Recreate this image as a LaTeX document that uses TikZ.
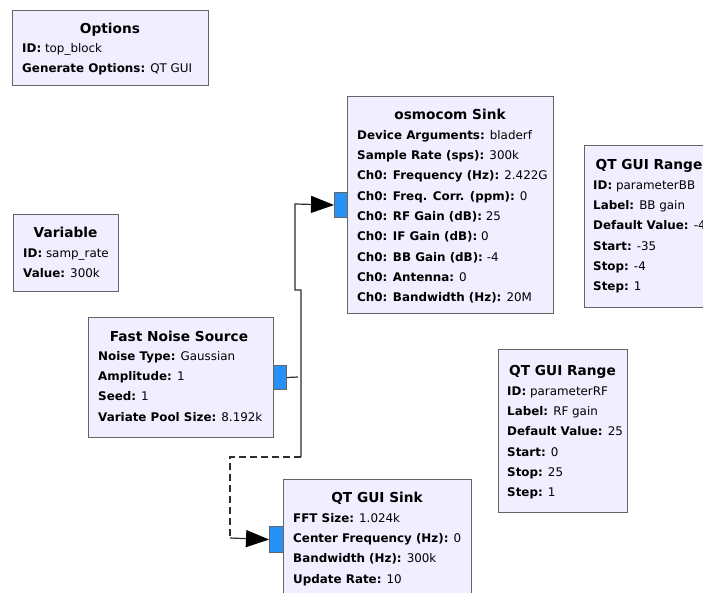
\documentclass[tikz,border=0pt]{standalone}
\usepackage{fontspec}
\setmainfont{DejaVu Sans}
\usetikzlibrary{arrows.meta}
\definecolor{blockfill}{RGB}{240,238,255}
\definecolor{blockedge}{RGB}{100,100,100}
\definecolor{portfill}{RGB}{40,145,245}
\definecolor{wire}{RGB}{45,45,45}
\tikzset{
  blockbox/.style={draw=blockedge, fill=blockfill, line width=1.2pt,
    rectangle, inner sep=0pt, anchor=north west},
  portbox/.style={draw=blockedge, fill=portfill, line width=1pt,
    rectangle, inner sep=0pt, anchor=north west},
  titletext/.style={anchor=base, inner sep=0pt,
    font=\fontsize{13.7}{16}\selectfont\bfseries},
  rowtext/.style={anchor=base west, inner sep=0pt,
    font=\fontsize{11.9}{14}\selectfont},
  wireline/.style={draw=wire, line width=1.2pt},
  wiredash/.style={wireline, dash pattern=on 7pt off 4pt},
  wirearrow/.style={wireline,
    -{Triangle[length=23pt,width=17pt,color=black]}},
}
\begin{document}
\begin{tikzpicture}[x=1pt,y=-1pt]
\useasboundingbox (0,0) rectangle (703,592);
\clip (0,0) rectangle (703,592);

% ---- Options
\node[blockbox, minimum width=196, minimum height=75] (opt) at (12,10) {};
\node[titletext] (opt-t) at (110,33) {Options};
\node[rowtext] (opt-1) at (22,52.3) {\textbf{ID:} top\_block};
\node[rowtext] (opt-2) at (22,72.6) {\textbf{Generate Options:} QT GUI};

% ---- osmocom Sink
\node[blockbox, minimum width=206, minimum height=217] (osmo) at (347,96) {};
\node[titletext] (osmo-t) at (450,119) {osmocom Sink};
\node[rowtext] (osmo-1) at (357,139.3) {\textbf{Device Arguments:} bladerf};
\node[rowtext] (osmo-2) at (357,159.6) {\textbf{Sample Rate (sps):} 300k};
\node[rowtext] (osmo-3) at (357,179.9) {\textbf{Ch0: Frequency (Hz):} 2.422G};
\node[rowtext] (osmo-4) at (357,200.2) {\textbf{Ch0: Freq. Corr. (ppm):} 0};
\node[rowtext] (osmo-5) at (357,220.5) {\textbf{Ch0: RF Gain (dB):} 25};
\node[rowtext] (osmo-6) at (357,240.8) {\textbf{Ch0: IF Gain (dB):} 0};
\node[rowtext] (osmo-7) at (357,261.1) {\textbf{Ch0: BB Gain (dB):} -4};
\node[rowtext] (osmo-8) at (357,281.4) {\textbf{Ch0: Antenna:} 0};
\node[rowtext] (osmo-9) at (357,301.7) {\textbf{Ch0: Bandwidth (Hz):} 20M};
\node[portbox, minimum width=13, minimum height=25] (osmo-in) at (334,192) {};

% ---- QT GUI Range (BB)
\node[blockbox, minimum width=130, minimum height=162] (rbb) at (584,145) {};
\node[titletext] (rbb-t) at (649,169) {QT GUI Range};
\node[rowtext] (rbb-1) at (593,189.3) {\textbf{ID:} parameterBB};
\node[rowtext] (rbb-2) at (593,209.6) {\textbf{Label:} BB gain};
\node[rowtext] (rbb-3) at (593,229.9) {\textbf{Default Value:} -4};
\node[rowtext] (rbb-4) at (593,250.2) {\textbf{Start:} -35};
\node[rowtext] (rbb-5) at (593,270.5) {\textbf{Stop:} -4};
\node[rowtext] (rbb-6) at (593,290.8) {\textbf{Step:} 1};

% ---- Variable
\node[blockbox, minimum width=105, minimum height=77] (var) at (13,214) {};
\node[titletext] (var-t) at (65.5,237) {Variable};
\node[rowtext] (var-1) at (23,257.3) {\textbf{ID:} samp\_rate};
\node[rowtext] (var-2) at (23,277.6) {\textbf{Value:} 300k};

% ---- Fast Noise Source
\node[blockbox, minimum width=185, minimum height=120] (noise) at (88,317) {};
\node[titletext] (noise-t) at (179,341) {Fast Noise Source};
\node[rowtext] (noise-1) at (98,360.3) {\textbf{Noise Type:} Gaussian};
\node[rowtext] (noise-2) at (98,380.6) {\textbf{Amplitude:} 1};
\node[rowtext] (noise-3) at (98,400.9) {\textbf{Seed:} 1};
\node[rowtext] (noise-4) at (98,421.2) {\textbf{Variate Pool Size:} 8.192k};
\node[portbox, minimum width=13, minimum height=24] (noise-out) at (273,365) {};

% ---- QT GUI Range (RF)
\node[blockbox, minimum width=129, minimum height=163] (rrf) at (498,349) {};
\node[titletext] (rrf-t) at (562.5,375) {QT GUI Range};
\node[rowtext] (rrf-1) at (507,395.3) {\textbf{ID:} parameterRF};
\node[rowtext] (rrf-2) at (507,415.6) {\textbf{Label:} RF gain};
\node[rowtext] (rrf-3) at (507,435.9) {\textbf{Default Value:} 25};
\node[rowtext] (rrf-4) at (507,456.2) {\textbf{Start:} 0};
\node[rowtext] (rrf-5) at (507,476.5) {\textbf{Stop:} 25};
\node[rowtext] (rrf-6) at (507,496.8) {\textbf{Step:} 1};

% ---- QT GUI Sink
\node[blockbox, minimum width=188, minimum height=125] (sink) at (283,479) {};
\node[titletext] (sink-t) at (377,502) {QT GUI Sink};
\node[rowtext] (sink-1) at (293,522.3) {\textbf{FFT Size:} 1.024k};
\node[rowtext] (sink-2) at (293,542.6) {\textbf{Center Frequency (Hz):} 0};
\node[rowtext] (sink-3) at (293,562.9) {\textbf{Bandwidth (Hz):} 300k};
\node[rowtext] (sink-4) at (293,583.2) {\textbf{Update Rate:} 10};
\node[portbox, minimum width=14, minimum height=26] (sink-in) at (269,526) {};

% ---- connections
\coordinate (stub) at (298,377);
\coordinate (split) at (301,457);
\coordinate (bend) at (230,538);
\draw[wireline] (noise-out.east) -- (stub);
\draw[wirearrow] (split) -- (301,290) -- (295,290) -- (295,204) -- (osmo-in.west);
\draw[wiredash] (split) -- (230,457) -- (bend);
\draw[wirearrow] (bend) -- (sink-in.west);
\end{tikzpicture}
\end{document}
